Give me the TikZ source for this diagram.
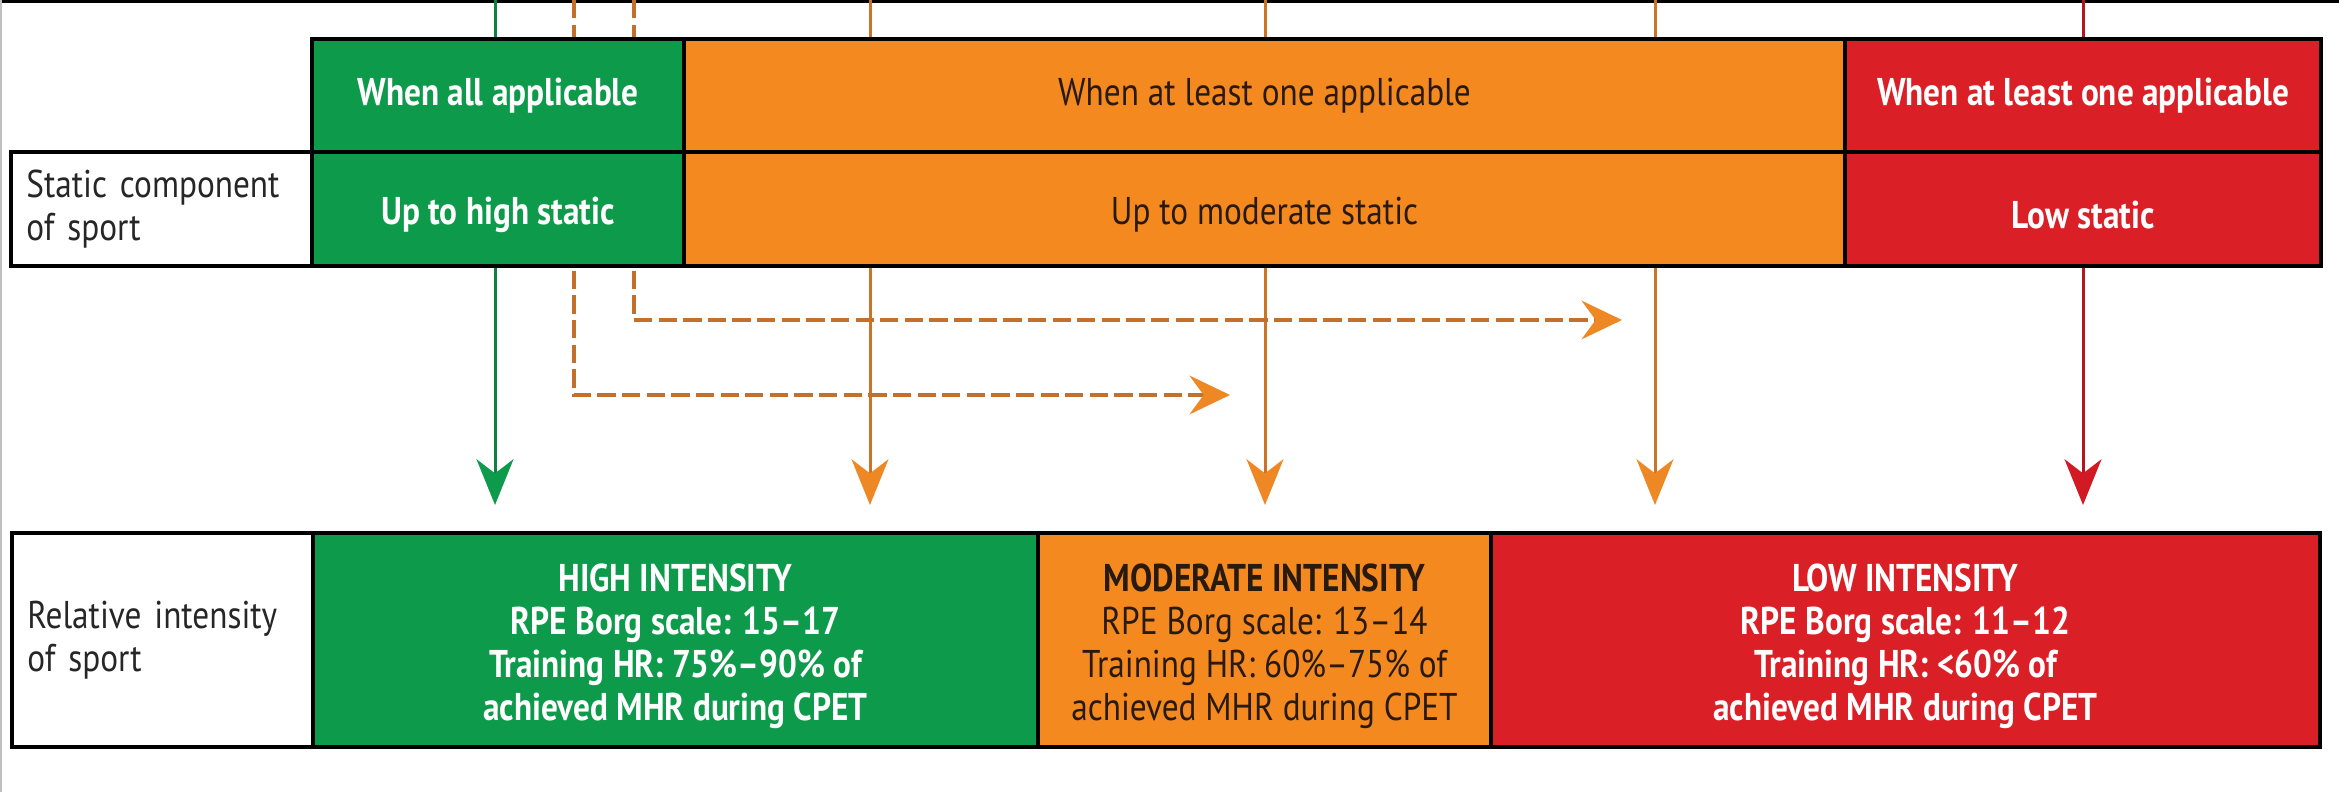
\documentclass[tikz,border=0pt]{standalone}
\usepackage{fontspec}
\setmainfont{PT Sans}[FakeStretch=0.86]
\usetikzlibrary{arrows.meta}
\definecolor{cgreen}{RGB}{14,154,75}
\definecolor{corange}{RGB}{244,137,32}
\definecolor{cred}{RGB}{218,31,38}
\definecolor{cdark}{RGB}{40,26,14}
\definecolor{lgreen}{RGB}{12,130,64}
\definecolor{lorange}{RGB}{205,115,38}
\definecolor{horange}{RGB}{238,136,36}
\definecolor{lred}{RGB}{180,22,30}
\definecolor{hred}{RGB}{210,26,36}
\definecolor{dorange}{RGB}{195,112,45}
\newcommand{\lowstrut}{\rule{0pt}{11.3pt}}
\begin{document}
\begin{tikzpicture}[x=0.01cm,y=-0.01cm,
  cell/.style={draw=black, line width=1.2pt, inner sep=0pt, align=center,
    font=\fontsize{11}{12.2}\selectfont},
  wtext/.style={text=white, font=\fontsize{11}{12.2}\selectfont\bfseries},
  dtext/.style={text=cdark},
  labelcell/.style={cell, fill=white, text=black!85, align=left, text width=2.7cm, inner xsep=0.155cm},
  garrow/.style={draw=lgreen, line width=0.85pt, -{Stealth[length=13pt,width=10.5pt,inset=4pt,color=cgreen]}},
  oarrow/.style={draw=lorange, line width=0.85pt, -{Stealth[length=13pt,width=10.5pt,inset=4pt,color=horange]}},
  rarrow/.style={draw=lred, line width=0.85pt, -{Stealth[length=13pt,width=10.5pt,inset=4pt,color=hred]}},
  darrow/.style={draw=dorange, line width=1.1pt, dash pattern=on 5.2pt off 1.8pt,
    -{Stealth[length=11.5pt,width=11pt,inset=4pt,color=horange]}}
]
\useasboundingbox (0,0) rectangle (2339,792);
% frame edges
\draw[line width=0.9pt] (0,1.5) -- (2339,1.5);
\draw[gray!50, line width=0.5pt] (0.9,0) -- (0.9,792);

% connector end points
\coordinate (gTop) at (495,0);   \coordinate (gTip) at (495,505);
\coordinate (o1Top) at (870,0);  \coordinate (o1Tip) at (870,505);
\coordinate (o2Top) at (1265,0); \coordinate (o2Tip) at (1265,505);
\coordinate (o3Top) at (1655,0); \coordinate (o3Tip) at (1655,505);
\coordinate (rTop) at (2083,0);  \coordinate (rTip) at (2083,505);
\coordinate (d1Top) at (574,0);  \coordinate (d1Tip) at (1230,395);
\coordinate (d2Top) at (634,0);  \coordinate (d2Tip) at (1622,320);

% connectors (behind the boxes)
\draw[garrow] (gTop) -- (gTip);
\draw[oarrow] (o1Top) -- (o1Tip);
\draw[oarrow] (o2Top) -- (o2Tip);
\draw[oarrow] (o3Top) -- (o3Tip);
\draw[rarrow] (rTop) -- (rTip);
\draw[darrow] (d1Top) |- (d1Tip);
\draw[darrow] (d2Top) |- (d2Tip);

% header row
\node[cell, fill=cgreen, wtext, minimum width=3.72cm, minimum height=1.13cm] (hG) at (498,95.5) {When all applicable};
\node[cell, fill=corange, dtext, minimum width=11.61cm, minimum height=1.13cm] (hO) at (1264.5,95.5) {When at least one applicable};
\node[cell, fill=cred, wtext, minimum width=4.76cm, minimum height=1.13cm] (hR) at (2083,95.5) {When at least one applicable};

% static row
\node[labelcell, minimum height=1.14cm] (sL) at (161.5,209) {Static component\\of sport};
\node[cell, fill=cgreen, wtext, minimum width=3.72cm, minimum height=1.14cm] (sG) at (498,209) {\lowstrut Up to high static};
\node[cell, fill=corange, dtext, minimum width=11.61cm, minimum height=1.14cm] (sO) at (1264.5,209) {\lowstrut Up to moderate static};
\node[cell, fill=cred, wtext, minimum width=4.76cm, minimum height=1.14cm] (sR) at (2083,209) {\lowstrut Low static};

% intensity row
\node[labelcell, minimum height=2.14cm] (bL) at (162.5,640) {Relative intensity\\of sport};
\node[cell, fill=cgreen, wtext, minimum width=7.25cm, minimum height=2.14cm] (bG) at (675.5,640)
  {\lowstrut HIGH INTENSITY\\RPE Borg scale: 15--17\\Training HR: 75\%--90\% of\\achieved MHR during CPET};
\node[cell, fill=corange, dtext, minimum width=4.53cm, minimum height=2.14cm] (bO) at (1264.5,640)
  {\lowstrut\textbf{MODERATE INTENSITY}\\RPE Borg scale: 13--14\\Training HR: 60\%--75\% of\\achieved MHR during CPET};
\node[cell, fill=cred, wtext, minimum width=8.29cm, minimum height=2.14cm] (bR) at (1905.5,640)
  {\lowstrut LOW INTENSITY\\RPE Borg scale: 11--12\\Training HR: <60\% of\\achieved MHR during CPET};
\end{tikzpicture}
\end{document}
